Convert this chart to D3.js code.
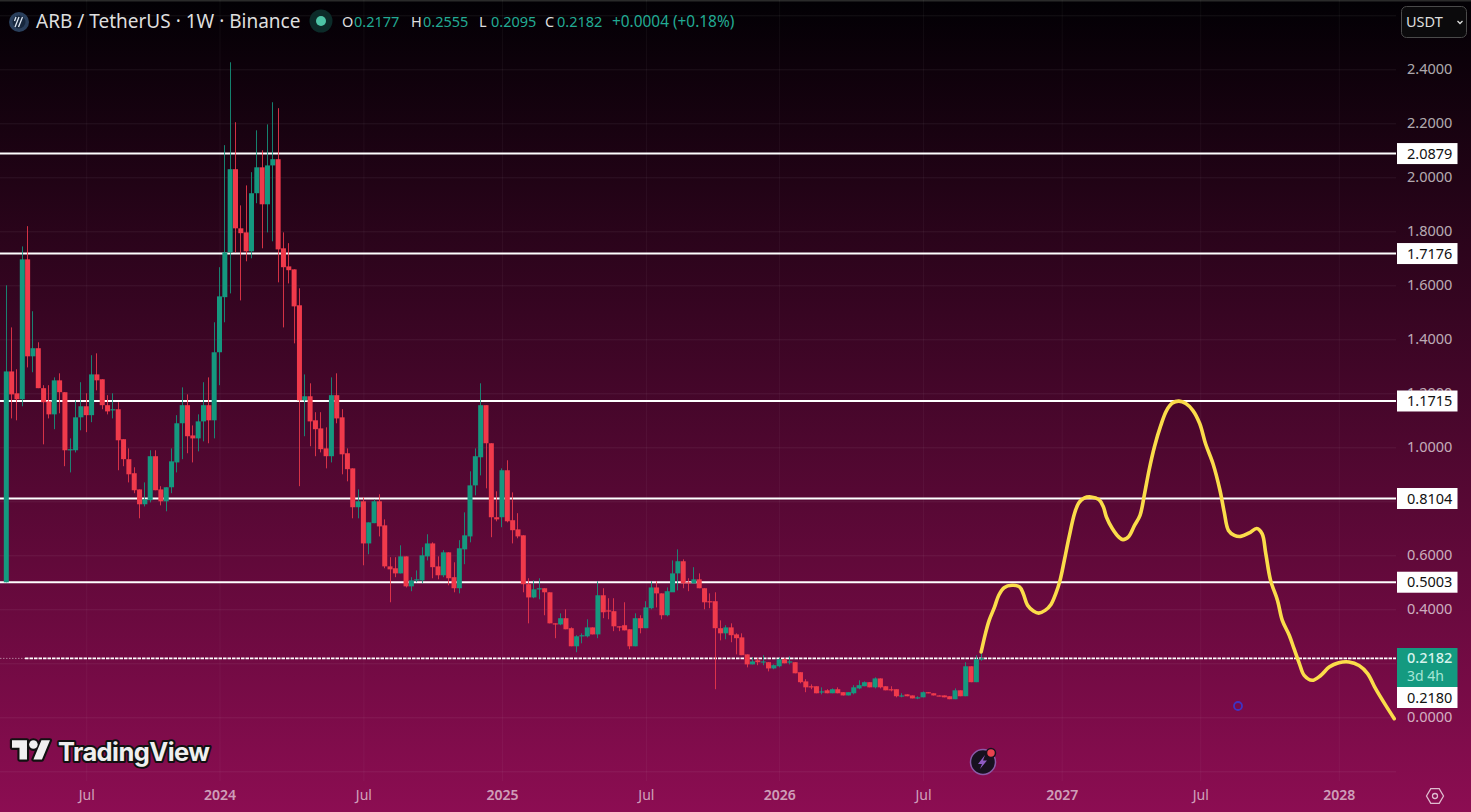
<!DOCTYPE html>
<html>
<head>
<meta charset="utf-8">
<title>ARB / TetherUS</title>
<script src="https://cdnjs.cloudflare.com/ajax/libs/d3/7.8.5/d3.min.js"></script>
<style>
	html, body { margin: 0; padding: 0; background: #000; overflow: hidden; }
	svg { display: block; font-family: "Noto Sans", sans-serif; }
</style>
</head>
<body>
<div id="chart"></div>
<script>
'use strict'

// weekly candles, one value per week
const opens = [
	.500,1.281,1.200,1.178,1.696,1.337,1.367,1.219,1.170,1.122,
	1.248,1.204,.989,.989,1.111,1.152,1.119,1.270,1.252,1.156,
	1.139,1.141,1.030,.956,.904,.844,.789,.804,.967,.844,
	.800,.852,.944,1.089,1.156,1.044,1.033,1.096,1.156,1.100,
	1.352,1.556,1.722,2.030,1.811,1.796,1.726,1.941,2.037,1.900,
	2.044,2.067,1.737,1.670,1.659,1.526,1.174,1.189,1.100,1.070,
	.996,.967,1.193,1.111,.978,.922,.778,.800,.644,.719,
	.800,.711,.559,.552,.533,.596,.485,.507,.507,.596,
	.644,.559,.526,.611,.519,.478,.622,.670,.859,.963,
	1.156,1.015,.741,.741,.915,.730,.696,.674,.493,.444,
	.474,.478,.463,.348,.344,.367,.330,.263,.300,.300,
	.333,.307,.452,.396,.393,.337,.341,.326,.263,.367,
	.330,.404,.481,.459,.378,.463,.533,.578,.500,.496,
	.511,.478,.430,.430,.330,.311,.333,.307,.296,.233,
	.196,.211,.204,.204,.181,.189,.215,.204,.204,.167,
	.133,.115,.115,.093,.100,.089,.104,.093,.081,.089,
	.107,.115,.130,.111,.144,.115,.104,.104,.078,.085,
	.081,.070,.074,.093,.089,.081,.081,.078,.067,.100,
	.078,.189,.130,.2177
]
const closes = [
	1.281,1.196,1.178,1.696,1.337,1.367,1.219,1.167,1.122,1.248,
	1.204,.989,.993,1.111,1.152,1.119,1.270,1.248,1.156,1.133,
	1.141,1.026,.956,.900,.841,.789,.807,.967,.841,.800,
	.852,.948,1.089,1.156,1.041,1.033,1.096,1.156,1.100,1.352,
	1.559,1.722,2.030,1.811,1.793,1.726,1.941,2.037,1.900,2.044,
	2.067,1.733,1.667,1.656,1.522,1.174,1.189,1.096,1.067,.993,
	.967,1.193,1.107,.974,.919,.778,.800,.644,.722,.800,
	.707,.559,.548,.533,.596,.485,.507,.511,.600,.644,
	.556,.526,.611,.515,.478,.626,.674,.859,.967,1.156,
	1.015,.741,.733,.915,.726,.693,.670,.493,.444,.474,
	.478,.463,.348,.344,.367,.326,.263,.300,.304,.333,
	.307,.452,.389,.393,.337,.333,.322,.263,.367,.330,
	.407,.481,.459,.378,.467,.533,.578,.496,.496,.511,
	.478,.426,.426,.330,.311,.333,.304,.293,.230,.196,
	.207,.204,.207,.181,.193,.215,.200,.207,.163,.130,
	.111,.111,.089,.096,.089,.104,.089,.081,.093,.111,
	.119,.130,.111,.144,.111,.100,.100,.078,.081,.078,
	.070,.074,.093,.089,.081,.078,.074,.067,.100,.078,
	.189,.130,.215,.2182
]
const highs = [
	1.600,1.444,1.289,1.744,1.819,1.504,1.389,1.230,1.230,1.259,
	1.274,1.204,1.033,1.174,1.241,1.200,1.341,1.348,1.252,1.193,
	1.200,1.167,1.030,.996,.926,.844,.870,.989,.989,.856,
	.852,.996,1.119,1.222,1.196,1.081,1.122,1.241,1.259,1.463,
	1.667,2.119,2.426,2.204,1.896,1.970,2.019,2.174,2.100,2.196,
	2.278,2.256,1.796,1.756,1.659,1.589,1.270,1.237,1.130,1.130,
	1.074,1.259,1.274,1.141,.996,.922,.844,.815,.722,.807,
	.826,.733,.593,.593,.637,.596,.519,.544,.630,.678,
	.648,.596,.619,.611,.574,.656,.759,.911,.996,1.237,
	1.156,1.015,.837,.922,.952,.833,.756,.674,.515,.507,
	.515,.478,.463,.348,.385,.400,.333,.304,.311,.363,
	.333,.504,.478,.441,.441,.337,.426,.326,.385,.378,
	.430,.504,.504,.459,.481,.581,.622,.585,.515,.556,
	.533,.478,.459,.463,.359,.341,.348,.311,.311,.233,
	.222,.219,.230,.204,.196,.222,.219,.226,.204,.167,
	.141,.122,.115,.111,.104,.107,.111,.093,.093,.119,
	.137,.133,.130,.148,.144,.115,.115,.104,.089,.085,
	.081,.078,.096,.093,.089,.081,.081,.078,.107,.100,
	.204,.189,.230,.2555
]
const lows = [
	.500,1.107,1.100,1.152,1.296,1.278,1.219,1.011,1.107,1.067,
	1.126,.930,.907,.981,1.063,1.056,1.093,1.211,1.141,1.122,
	1.107,.915,.930,.870,.830,.737,.781,.796,.841,.785,
	.763,.830,.907,.956,.978,.944,.985,1.022,1.015,1.033,
	1.230,1.463,1.570,1.722,1.544,1.689,1.700,1.904,1.737,1.796,
	1.763,1.611,1.444,1.607,1.385,.856,1.041,1.004,.967,.981,
	.922,.944,1.089,.900,.874,.737,.737,.563,.604,.719,
	.670,.552,.426,.519,.533,.481,.467,.500,.496,.581,
	.515,.511,.519,.489,.463,.459,.567,.648,.822,.896,
	.848,.667,.726,.704,.722,.644,.663,.463,.348,.441,
	.437,.378,.348,.293,.341,.326,.263,.241,.274,.296,
	.307,.293,.367,.363,.319,.319,.322,.252,.263,.311,
	.330,.400,.407,.363,.374,.467,.470,.478,.467,.496,
	.478,.400,.404,.104,.285,.289,.278,.233,.230,.185,
	.196,.193,.193,.170,.178,.185,.200,.196,.163,.126,
	.093,.104,.089,.085,.089,.089,.089,.081,.081,.085,
	.104,.115,.111,.107,.107,.100,.096,.074,.074,.078,
	.070,.067,.074,.089,.081,.078,.074,.067,.067,.078,
	.078,.130,.130,.2095
]

// hand drawn forecast brush: week number and price
const brushWeeks = [
	182.9,183.7,184.4,185.4,186.2,187.2,188.7,190.1,190.8,191.6,192.7,193.7,194.9,196,196.9,197.7,198.5,199.4,200.4,201.2,
	202.2,203.5,205,205.8,206.4,207.5,208.7,209.5,210.6,211.6,212.7,213.5,214.4,215.4,216.6,217.7,218.8,220,221.3,222.6,
	223.9,225,226.4,227.7,228.5,229.3,230.4,231.6,233.2,234.6,235.6,236.3,237.2,238.5,239.4,240.7,241.6,242.6,243.5,245,
	246.6,248.2,250,251.9,253.8,255.4,256.9,258.8,260.4
]
const brushPrices = [
	.242,.310,.359,.408,.452,.480,.489,.483,.458,.415,.394,.386,.396,.418,.458,.507,.581,.668,.754,.794,
	.812,.816,.806,.781,.742,.699,.668,.658,.670,.708,.748,.822,.915,1.001,1.081,1.137,1.164,1.171,1.162,1.137,
	1.088,1.013,.939,.841,.760,.692,.674,.670,.683,.699,.680,.606,.507,.433,.359,.304,.254,.199,.155,.137,
	.155,.186,.202,.205,.192,.162,.106,.044,-.005
]

const levels = [2.0879, 1.7176, 1.1715, 0.8104, 0.5003]
const lastPrice = 0.2182
const crossPrice = 0.2180
const priceTicks = [2.4, 2.2, 2.0, 1.8, 1.6, 1.4, 1.2, 1.0, 0.8, 0.6, 0.4, 0.0]
const gridPrices = [2.6, 2.4, 2.2, 2.0, 1.8, 1.6, 1.4, 1.2, 1.0, 0.8, 0.6, 0.4, 0.2, 0.0, -0.2]
const timeWeeks = [15, 40, 67, 93, 120, 145, 172, 198, 224, 250]
const timeLabels = ["Jul", "2024", "Jul", "2025", "Jul", "2026", "Jul", "2027", "Jul", "2028"]
const ohlcLabels = ["O", "H", "L", "C"]
const ohlcValues = ["0.2177", "0.2555", "0.2095", "0.2182"]

const width = 1471, height = 812
const plotRight = 1396

let x = d3.scaleLinear().domain([0, 183]).range([6.3, 981.7])
let y = d3.scaleLinear().domain([2.4, 0]).range([69.3, 717.3])
let green = "#15987f", red = "#f03a4b"

let svg = d3.select("#chart").append("svg").attr("width", width).attr("height", height)

let grad = svg.append("defs").append("linearGradient").attr("id", "bg")
	.attr("x1", 0).attr("y1", 0).attr("x2", 0).attr("y2", 1)
grad.append("stop").attr("offset", "0%").attr("stop-color", "#020004")
grad.append("stop").attr("offset", "100%").attr("stop-color", "#8c0d52")
svg.append("rect").attr("width", width).attr("height", height).attr("fill", "url(#bg)")
svg.append("rect").attr("width", width).attr("height", 1.5).attr("fill", "#2a2a2a")

svg.append("defs").append("clipPath").attr("id", "plot")
	.append("rect").attr("x", 0).attr("y", 0).attr("width", plotRight).attr("height", 781)

// grid, made of long axis ticks
let gridY = svg.append("g").attr("transform", "translate(0,0)")
	.call(d3.axisRight(y).tickValues(gridPrices).tickSize(plotRight).tickFormat(""))
gridY.select(".domain").remove()
gridY.selectAll("line").attr("stroke", "#fff").attr("stroke-opacity", 0.07)

let gridX = svg.append("g").attr("transform", "translate(0,781)")
	.call(d3.axisTop(x).tickValues(timeWeeks).tickSize(781).tickFormat(""))
gridX.select(".domain").remove()
gridX.selectAll("line").attr("stroke", "#fff").attr("stroke-opacity", 0.045)

// horizontal levels sit under the candles
svg.selectAll(".level").data(levels).join("line").attr("class", "level")
	.attr("x1", 0).attr("x2", plotRight)
	.attr("y1", d => y(d)).attr("y2", d => y(d))
	.attr("stroke", "#fff").attr("stroke-width", 2)

svg.append("line").attr("x1", 0).attr("x2", 25).attr("y1", y(lastPrice)).attr("y2", y(lastPrice))
	.attr("stroke", "#fff").attr("stroke-opacity", 0.45).attr("stroke-dasharray", "1.5 1.5")
svg.append("line").attr("x1", 25).attr("x2", plotRight).attr("y1", y(lastPrice)).attr("y2", y(lastPrice))
	.attr("stroke", "#fff").attr("stroke-width", 1.6).attr("stroke-dasharray", "3.5 1")

// candles
let weeks = d3.range(opens.length)
let candles = svg.append("g")
candles.selectAll("line").data(weeks).join("line")
	.attr("x1", d => Math.floor(x(d)) + 0.5).attr("x2", d => Math.floor(x(d)) + 0.5)
	.attr("y1", d => y(highs[d])).attr("y2", d => y(lows[d]))
	.attr("stroke", d => closes[d] >= opens[d] ? green : red)
	.attr("stroke-opacity", 0.85)
	.attr("stroke-width", 1)
candles.selectAll("rect").data(weeks).join("rect")
	.attr("x", d => x(d) - 2.5).attr("width", 5)
	.attr("y", d => y(Math.max(opens[d], closes[d])))
	.attr("height", d => Math.max(1.2, Math.abs(y(opens[d]) - y(closes[d]))))
	.attr("fill", d => closes[d] >= opens[d] ? green : red)

// forecast brush
let brush = d3.line()
	.x((d, i) => x(brushWeeks[i]))
	.y(d => y(d))
	.curve(d3.curveCatmullRom.alpha(0.5))
svg.append("path").datum(brushPrices)
	.attr("d", brush)
	.attr("clip-path", "url(#plot)")
	.attr("fill", "none").attr("stroke", "#fbdc4a").attr("stroke-width", 3.6)
	.attr("stroke-linecap", "round").attr("stroke-linejoin", "round")

// price axis
let axisY = svg.append("g").attr("transform", "translate(1407,0)")
	.call(d3.axisRight(y).tickValues(priceTicks).tickSize(0).tickPadding(0).tickFormat(d3.format(".4f")))
axisY.select(".domain").remove()
axisY.selectAll("text").attr("font-size", 14.5).attr("font-family", "Noto Sans").attr("fill", "#fff").attr("fill-opacity", 0.68)

// time axis
let axisX = svg.append("g").attr("transform", "translate(0,795)")
	.call(d3.axisBottom(x).tickValues(timeWeeks).tickSize(0).tickPadding(0).tickFormat((d, i) => timeLabels[i]))
axisX.select(".domain").remove()
axisX.selectAll("text")
	.attr("y", 0).attr("dy", "0.35em")
	.attr("font-size", 14).attr("font-family", "Noto Sans")
	.attr("font-weight", (d, i) => timeLabels[i] == "Jul" ? 400 : 600)
	.attr("fill", "#fff").attr("fill-opacity", 0.62)

// price tags on the axis
let tags = svg.selectAll(".tag").data(levels).join("g").attr("class", "tag")
	.attr("transform", d => "translate(1397," + y(d) + ")")
tags.append("rect").attr("x", 0).attr("y", -10.5).attr("width", 60.5).attr("height", 21).attr("fill", "#fff")
tags.append("text").attr("x", 10).attr("dy", "0.35em").attr("font-size", 14.5).attr("fill", "#111")
	.text(d => d3.format(".4f")(d))

svg.append("rect").attr("x", 1397).attr("y", 648).attr("width", 60.5).attr("height", 39).attr("fill", "#149a80")
svg.append("text").attr("x", 1407).attr("y", 663).attr("font-size", 14.5).attr("font-weight", 500).attr("fill", "#d6f3ec")
	.text(d3.format(".4f")(lastPrice))
svg.append("text").attr("x", 1407).attr("y", 681).attr("font-size", 14).attr("fill", "#a6e6d6").text("3d 4h")
svg.append("rect").attr("x", 1397).attr("y", 687).attr("width", 60.5).attr("height", 21).attr("fill", "#fff")
svg.append("text").attr("x", 1407).attr("y", 697.5).attr("dy", "0.35em").attr("font-size", 14.5).attr("fill", "#111")
	.text(d3.format(".4f")(crossPrice))

// header
let head = svg.append("g")
head.append("circle").attr("cx", 19).attr("cy", 22).attr("r", 10).attr("fill", "#2a3f5c")
head.append("circle").attr("cx", 19).attr("cy", 22).attr("r", 6.5).attr("fill", "#16263c")
head.append("path").attr("d", "M15 27L19 17M18.5 27L22.5 17M16 17L14.5 21")
	.attr("stroke", "#dfe7f2").attr("stroke-width", 1.3).attr("fill", "none")
head.append("text").attr("x", 36).attr("y", 28).attr("font-size", 19).attr("fill", "#dedede")
	.text("ARB / TetherUS · 1W · Binance")
head.append("circle").attr("cx", 321).attr("cy", 21).attr("r", 11.5).attr("fill", "#0c2b29")
head.append("circle").attr("cx", 321).attr("cy", 21).attr("r", 5).attr("fill", "#4dc4a6")

let ohlcX = [342, 411, 479, 545]
ohlcLabels.forEach(function(d, i){
	head.append("text").attr("x", ohlcX[i]).attr("y", 27).attr("font-size", 14.5).attr("fill", "#dedede").text(d)
	head.append("text").attr("x", ohlcX[i] + 12).attr("y", 27).attr("font-size", 14.5).attr("fill", "#22ab94").text(ohlcValues[i])
})
head.append("text").attr("x", 612).attr("y", 27).attr("font-size", 15.4).attr("fill", "#22ab94").text("+0.0004 (+0.18%)")

// currency button
svg.append("rect").attr("x", 1401.5).attr("y", 6.5).attr("width", 65).attr("height", 31).attr("rx", 5)
	.attr("fill", "#0b0a0c").attr("stroke", "#4a4a4a")
svg.append("text").attr("x", 1406).attr("y", 27).attr("font-size", 14.5).attr("fill", "#dedede").text("USDT")
svg.append("path").attr("d", "M1457.5 21l2.5 2.5 2.5-2.5").attr("fill", "none").attr("stroke", "#dedede").attr("stroke-width", 1.3)

// TradingView mark
let logo = svg.append("g")
let mark = logo.append("g").attr("transform", "translate(12,736) scale(1.07)")
let markShape = "M14 22H7V11H0V4h14v18z M28 22h-8l7.5-18h8L28 22z"
mark.append("path").attr("d", markShape).attr("fill", "#111").attr("stroke", "#111").attr("stroke-width", 4).attr("stroke-linejoin", "round")
mark.append("circle").attr("cx", 20).attr("cy", 8).attr("r", 4).attr("fill", "#111").attr("stroke", "#111").attr("stroke-width", 4)
mark.append("path").attr("d", markShape).attr("fill", "#f0f0f0")
mark.append("circle").attr("cx", 20).attr("cy", 8).attr("r", 4).attr("fill", "#f0f0f0")
logo.append("text").attr("x", 58).attr("y", 761).attr("font-family", "Inter").attr("font-size", 25.5).attr("font-weight", 700)
	.attr("letter-spacing", "-0.6").attr("fill", "#efefef").attr("stroke", "#111").attr("stroke-width", 4)
	.attr("paint-order", "stroke").attr("stroke-linejoin", "round").text("TradingView")

// lightning badge
let badge = svg.append("g").attr("transform", "translate(983,762)")
badge.append("circle").attr("r", 12.5).attr("fill", "#17111f").attr("stroke", "#8a5aa8").attr("stroke-width", 1.5)
badge.append("path").attr("d", "M2-7L-5 2h4l-2 5 7-8.5H0z").attr("fill", "#8e5bc4")
badge.append("circle").attr("cx", 8).attr("cy", -9).attr("r", 4.5).attr("fill", "#e8434f").attr("stroke", "#17111f").attr("stroke-width", 1.5)

// blue marker
svg.append("circle").attr("cx", 1238).attr("cy", 706).attr("r", 4).attr("fill", "none").attr("stroke", "#3f33c4").attr("stroke-width", 1.8)

// settings hexagon
let cog = svg.append("g").attr("transform", "translate(1435,796)").attr("fill", "none").attr("stroke", "#fff").attr("stroke-opacity", 0.72)
cog.append("path").attr("d", "M-8.5 0L-4.2-7.3H4.2L8.5 0 4.2 7.3H-4.2z").attr("stroke-width", 1.3)
cog.append("circle").attr("r", 2.5).attr("stroke-width", 1.3)
</script>
</body>
</html>
